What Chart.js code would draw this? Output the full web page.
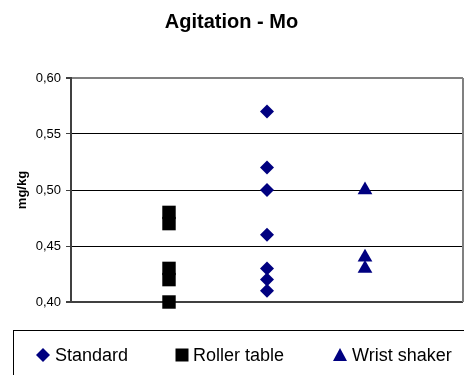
<!DOCTYPE html>
<html>
<head>
<meta charset="utf-8">
<script src="https://cdn.jsdelivr.net/npm/chart.js@4/dist/chart.umd.min.js"></script>
<style>
    html, body { margin: 0; padding: 0; background: #fff; }
    #wrap { width: 464px; height: 375px; position: relative; }
</style>
</head>
<body>
<div id="wrap"><canvas id="chart" width="464" height="375"></canvas></div>
<script>
// Data (mg/kg)
const groups = ['Roller table', 'Standard', 'Wrist shaker'];
const standardValues = [0.57, 0.52, 0.50, 0.46, 0.43, 0.42, 0.41];
const rollerValues = [0.48, 0.47, 0.43, 0.42, 0.40];
const wristValues = [0.50, 0.44, 0.43];
const yMin = 0.40;
const yMax = 0.60;
const yStep = 0.05;

const FONT = '"Liberation Sans", Arial, sans-serif';

function toPoints(label, values) {
    const x = groups.indexOf(label) + 1;
    return values.map(v => ({ x: x, y: v }));
}

function near(a, b) {
    return Math.abs(a - b) < 1e-6;
}

// Draws a legend marker by hand
function drawMarker(ctx, style, x, y, color) {
    ctx.fillStyle = color;
    ctx.beginPath();
    if (style === 'rectRot') {
        ctx.moveTo(x, y - 7);
        ctx.lineTo(x + 7, y);
        ctx.lineTo(x, y + 7);
        ctx.lineTo(x - 7, y);
    } else if (style === 'rect') {
        ctx.rect(x - 6.5, y - 6.5, 13, 13);
    } else {
        ctx.moveTo(x, y - 7);
        ctx.lineTo(x + 7, y + 6);
        ctx.lineTo(x - 7, y + 6);
    }
    ctx.closePath();
    ctx.fill();
}

// Boxed legend under the plot, plus the grey right-hand frame
const boxLegend = {
    id: 'boxLegend',
    beforeDatasetsDraw(chart) {
        const { ctx, chartArea } = chart;
        ctx.save();
        ctx.strokeStyle = '#808080';
        ctx.lineWidth = 2;
        ctx.beginPath();
        ctx.moveTo(chartArea.right, chartArea.top);
        ctx.lineTo(chartArea.right, chartArea.bottom);
        ctx.stroke();
        ctx.restore();
    },
    afterDraw(chart) {
        const ctx = chart.ctx;
        ctx.save();
        ctx.strokeStyle = '#000';
        ctx.lineWidth = 1;
        ctx.strokeRect(13.5, 330.5, 470, 60);

        const slots = [{ m: 43, t: 55 }, { m: 182, t: 193 }, { m: 340, t: 352 }];
        const y = 355;
        chart.data.datasets.forEach((ds, i) => {
            drawMarker(ctx, ds.pointStyle, slots[i].m, y, ds.backgroundColor);
            ctx.fillStyle = '#000';
            ctx.font = '18px ' + FONT;
            ctx.textBaseline = 'middle';
            ctx.textAlign = 'left';
            ctx.fillText(ds.label, slots[i].t, y + 1);
        });
        ctx.restore();
    }
};

const ctx = document.getElementById('chart').getContext('2d');

new Chart(ctx, {
    type: 'scatter',
    data: {
        datasets: [{
            label: 'Standard',
            data: toPoints('Standard', standardValues),
            pointStyle: 'rectRot',
            backgroundColor: '#000080',
            borderColor: '#000080',
            borderWidth: 0,
            pointRadius: 7,
            clip: false
        }, {
            label: 'Roller table',
            data: toPoints('Roller table', rollerValues),
            pointStyle: 'rect',
            backgroundColor: '#000000',
            borderColor: '#000000',
            borderWidth: 0,
            pointRadius: 9.5,
            clip: false
        }, {
            label: 'Wrist shaker',
            data: toPoints('Wrist shaker', wristValues),
            pointStyle: 'triangle',
            backgroundColor: '#000080',
            borderColor: '#000080',
            borderWidth: 0,
            pointRadius: 8.5,
            clip: false
        }]
    },
    options: {
        responsive: false,
        animation: false,
        devicePixelRatio: 1,
        layout: {
            autoPadding: false,
            padding: { left: 0, right: 1, top: 0, bottom: 73 }
        },
        plugins: {
            legend: { display: false },
            tooltip: { enabled: false },
            title: {
                display: true,
                text: 'Agitation - Mo',
                color: '#000',
                font: { family: FONT, size: 20, weight: 'bold' },
                padding: { top: 10, bottom: 44 }
            }
        },
        scales: {
            x: {
                type: 'linear',
                display: false,
                min: 0,
                max: 4
            },
            y: {
                min: yMin,
                max: yMax,
                afterFit(scale) {
                    scale.width = 71;
                },
                ticks: {
                    stepSize: yStep,
                    color: '#000',
                    padding: 5,
                    font: { family: FONT, size: 13 },
                    callback: v => v.toFixed(2).replace('.', ',')
                },
                title: {
                    display: true,
                    text: 'mg/kg',
                    color: '#000',
                    font: { family: FONT, size: 13, weight: 'bold' },
                    padding: { top: 15, bottom: 0 }
                },
                border: { color: '#404040', width: 2 },
                grid: {
                    tickLength: 5,
                    tickColor: '#404040',
                    color: c => {
                        if (near(c.tick.value, yMax)) return '#808080';
                        if (near(c.tick.value, yMin)) return '#404040';
                        return '#000';
                    },
                    lineWidth: c => {
                        if (near(c.tick.value, yMax) || near(c.tick.value, yMin)) return 2;
                        return 1;
                    }
                }
            }
        }
    },
    plugins: [boxLegend]
});
</script>
</body>
</html>
